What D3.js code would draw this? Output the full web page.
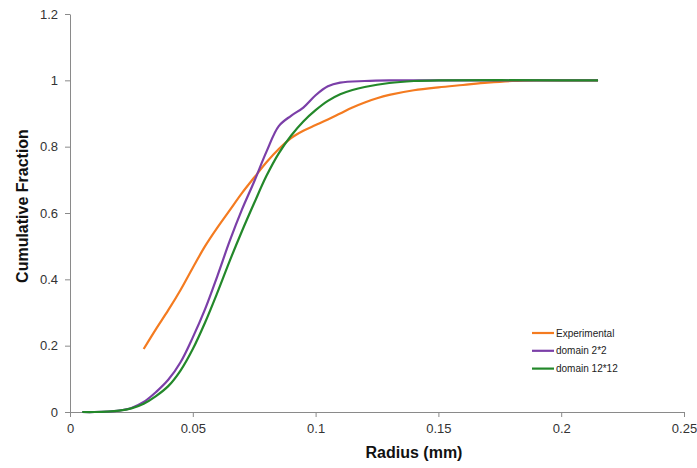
<!DOCTYPE html>
<html>
<head>
<meta charset="utf-8">
<script src="https://cdn.jsdelivr.net/npm/d3@7"></script>
<style>
  html, body { margin: 0; padding: 0; background: #fff; }
  svg { display: block; }
</style>
</head>
<body>
<svg id="chart" width="697" height="468"></svg>
<script>
// ---- data ----
const expX   = [0.03, 0.035, 0.04, 0.045, 0.05, 0.055, 0.06, 0.065, 0.07, 0.075, 0.08, 0.085, 0.09, 0.095, 0.1, 0.105, 0.11, 0.115, 0.12, 0.125, 0.13, 0.14, 0.15, 0.16, 0.17, 0.18, 0.19, 0.2, 0.215];
const expY   = [0.19, 0.25, 0.307, 0.368, 0.435, 0.50, 0.556, 0.608, 0.66, 0.707, 0.753, 0.793, 0.826, 0.848, 0.865, 0.882, 0.90, 0.918, 0.933, 0.946, 0.956, 0.97, 0.979, 0.986, 0.993, 0.998, 1.0, 1.0, 1.0];

const d22X   = [0.005, 0.01, 0.015, 0.02, 0.025, 0.03, 0.035, 0.04, 0.045, 0.05, 0.055, 0.06, 0.065, 0.07, 0.075, 0.08, 0.085, 0.09, 0.095, 0.1, 0.105, 0.11, 0.12, 0.13, 0.15, 0.2, 0.215];
const d22Y   = [0, 0, 0.001, 0.004, 0.012, 0.03, 0.06, 0.097, 0.15, 0.225, 0.31, 0.41, 0.515, 0.61, 0.695, 0.785, 0.862, 0.893, 0.918, 0.955, 0.982, 0.993, 0.998, 1.0, 1.0, 1.0, 1.0];

const d1212X = [0.005, 0.01, 0.015, 0.02, 0.025, 0.03, 0.035, 0.04, 0.045, 0.05, 0.055, 0.06, 0.065, 0.07, 0.075, 0.08, 0.085, 0.09, 0.095, 0.1, 0.105, 0.11, 0.115, 0.12, 0.13, 0.14, 0.15, 0.2, 0.215];
const d1212Y = [0, 0, 0.001, 0.004, 0.011, 0.025, 0.048, 0.078, 0.125, 0.19, 0.27, 0.36, 0.455, 0.545, 0.63, 0.712, 0.78, 0.833, 0.876, 0.91, 0.938, 0.958, 0.971, 0.98, 0.992, 0.998, 1.0, 1.0, 1.0];

const seriesNames  = ["Experimental", "domain 2*2", "domain 12*12"];
const seriesColors = ["#F47B20", "#7B3FA8", "#23882A"];
const xTicks = [0, 0.05, 0.1, 0.15, 0.2, 0.25];
const yTicks = [0, 0.2, 0.4, 0.6, 0.8, 1, 1.2];
const xTitle = "Radius (mm)";
const yTitle = "Cumulative Fraction";

// ---- layout ----
const svg = d3.select("#chart");
const plotLeft = 70, plotRight = 684, plotTop = 14, plotBottom = 412;
const x = d3.scaleLinear().domain([0, 0.25]).range([plotLeft, plotRight]);
const y = d3.scaleLinear().domain([0, 1.2]).range([plotBottom, plotTop]);
const axisColor = "#8a8a8a";
const textColor = "#333";
const font = "'Liberation Sans', Arial, sans-serif";

// axes
const xAxis = svg.append("g").attr("transform", `translate(0,${plotBottom})`)
  .call(d3.axisBottom(x).tickValues(xTicks).tickSize(5).tickSizeOuter(0).tickFormat(d3.format("")));
const yAxis = svg.append("g").attr("transform", `translate(${plotLeft},0)`)
  .call(d3.axisLeft(y).tickValues(yTicks).tickSize(5).tickSizeOuter(0).tickFormat(d3.format("")));
[xAxis, yAxis].forEach(g => {
  g.selectAll("path, line").attr("stroke", axisColor).attr("stroke-width", 1);
  g.selectAll("text").attr("fill", textColor).style("font-family", font).style("font-size", "13px");
});
xAxis.selectAll("text").attr("dy", "0.71em").attr("y", 12);
yAxis.selectAll("text").attr("x", -12);

// series
const series = [
  {name: seriesNames[0], color: seriesColors[0], xs: expX, ys: expY},
  {name: seriesNames[1], color: seriesColors[1], xs: d22X, ys: d22Y},
  {name: seriesNames[2], color: seriesColors[2], xs: d1212X, ys: d1212Y}
];
const line = d3.line().x(d => x(d[0])).y(d => y(d[1])).curve(d3.curveCatmullRom.alpha(0.5));
series.forEach(s => {
  svg.append("path")
    .datum(s.xs.map((v, i) => [v, s.ys[i]]))
    .attr("fill", "none")
    .attr("stroke", s.color)
    .attr("stroke-width", 2.2)
    .attr("stroke-linejoin", "round")
    .attr("d", line);
});

// titles
svg.append("text")
  .attr("x", 414).attr("y", 458)
  .attr("text-anchor", "middle")
  .style("font-family", font).style("font-size", "16px").style("font-weight", "bold")
  .attr("fill", "#111").text(xTitle);
svg.append("text")
  .attr("transform", "translate(28,206) rotate(-90)")
  .attr("text-anchor", "middle")
  .style("font-family", font).style("font-size", "16px").style("font-weight", "bold")
  .attr("fill", "#111").text(yTitle);

// legend
const legend = svg.append("g");
series.forEach((s, i) => {
  const yy = 333 + i * 17.8;
  legend.append("line").attr("x1", 532).attr("x2", 554).attr("y1", yy).attr("y2", yy)
    .attr("stroke", s.color).attr("stroke-width", 2.2);
  legend.append("text").attr("x", 556).attr("y", yy).attr("dy", "0.35em")
    .style("font-family", font).style("font-size", "10px")
    .attr("fill", "#222").text(s.name);
});
</script>
</body>
</html>
